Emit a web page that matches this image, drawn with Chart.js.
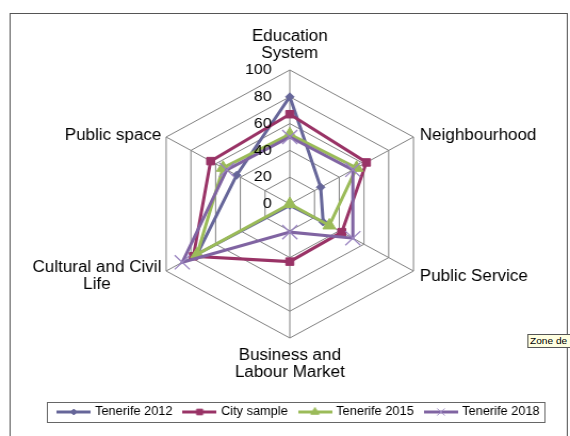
<!DOCTYPE html>
<html>
<head>
<meta charset="utf-8">
<script src="https://cdn.jsdelivr.net/npm/chart.js@4.4.0/dist/chart.umd.min.js"></script>
<style>
  html, body { margin: 0; padding: 0; background: #fff; overflow: hidden; }
  /* the source picture is stretched ~6.5% horizontally, so the whole page is too */
  #page { position: relative; width: 535px; height: 436px; transform: scaleX(1.0654); transform-origin: 0 0; }
  #frame { position: absolute; left: 8.5px; top: 12.5px; width: 524px; height: 440px; border: 1px solid #555; box-sizing: border-box; }
  #chart { position: absolute; left: 0; top: 0; }
  #zone { position: absolute; left: 494.5px; top: 334px; height: 12px; padding: 0 2px; background: #ffffe1; border: 1px solid #555;
          font: 9.5px "Liberation Sans", Arial, sans-serif; line-height: 12px; white-space: nowrap; }
</style>
</head>
<body>
<div id="page">
  <div id="frame"></div>
  <canvas id="chart" width="535" height="436"></canvas>
  <div id="zone">Zone de graphique</div>
</div>
<script>
const categories = [
  ["Education", "System"],
  "Neighbourhood",
  "Public Service",
  ["Business and", "Labour Market"],
  ["Cultural and Civil", "Life"],
  "Public space",
];
const tenerife2012 = [80, 25, 27, 1, 75, 43];
const citySample = [67, 62, 42, 43, 78, 64];
const tenerife2015 = [52, 54, 32, 0, 75, 54];
const tenerife2018 = [50, 51, 51, 21, 87, 51];
const tickValues = [0, 20, 40, 60, 80, 100];

const FONT = '"Liberation Sans", Arial, sans-serif';
Chart.defaults.font.family = FONT;
Chart.defaults.color = "#000";

// where each category label sits relative to its outer vertex
const labelPlacement = [
  { align: "center", dx: 0, dy: -29 },
  { align: "left", dx: 6, dy: 3 },
  { align: "left", dx: 6, dy: 10 },
  { align: "center", dx: 0, dy: 22 },
  { align: "block", dx: -4.5, dy: 1 },
  { align: "right", dx: -4.5, dy: 2.5 },
];

// line + marker swatch, Excel style
function legendSwatch(color, style, radius, markerColor) {
  const c = document.createElement("canvas");
  c.width = 32;
  c.height = 12;
  const ctx = c.getContext("2d");
  ctx.strokeStyle = color;
  ctx.lineWidth = 3;
  ctx.beginPath();
  ctx.moveTo(0, 6);
  ctx.lineTo(32, 6);
  ctx.stroke();
  ctx.fillStyle = markerColor;
  ctx.strokeStyle = markerColor;
  ctx.lineWidth = 1;
  Chart.helpers.drawPoint(ctx, { pointStyle: style, radius: radius, borderWidth: 1, rotation: 0 }, 16, 6);
  return c;
}

const swatches = [
  legendSwatch("#666699", "rectRot", 3, "#666699"),
  legendSwatch("#993366", "rect", 4, "#993366"),
  legendSwatch("#9bbb59", "triangle", 4.5, "#9bbb59"),
  legendSwatch("#8064a2", "crossRot", 5, "#a08cc4"),
];

const radarText = {
  id: "radarText",
  afterDraw(chart) {
    const scale = chart.scales.r;
    const ctx = chart.ctx;
    ctx.save();
    ctx.fillStyle = "#000";

    // value labels to the left of the top spoke
    ctx.font = "15px " + FONT;
    ctx.textAlign = "right";
    ctx.textBaseline = "middle";
    tickValues.forEach((v) => {
      const d = scale.getDistanceFromCenterForValue(v);
      ctx.fillText(String(v), scale.xCenter - 17, scale.yCenter - d);
    });

    // category names
    ctx.font = "16px " + FONT;
    ctx.textBaseline = "alphabetic";
    categories.forEach((label, i) => {
      const lines = [].concat(label);
      const p = scale.getPointPosition(i, scale.drawingArea);
      const place = labelPlacement[i];
      let x = p.x + place.dx;
      if (place.align === "block") {
        const w = Math.max(...lines.map((l) => ctx.measureText(l).width));
        x -= w / 2;
        ctx.textAlign = "center";
      } else {
        ctx.textAlign = place.align;
      }
      lines.forEach((line, k) => {
        ctx.fillText(line, x, p.y + place.dy + k * 17);
      });
    });
    ctx.restore();
  },
};

const legendFrame = {
  id: "legendFrame",
  afterDraw(chart) {
    const lg = chart.legend;
    const boxes = lg.legendHitBoxes;
    if (!boxes || !boxes.length) return;
    const last = boxes[boxes.length - 1];
    const cy = boxes[0].top + boxes[0].height / 2;
    const ctx = chart.ctx;
    ctx.save();
    ctx.strokeStyle = "#666";
    ctx.lineWidth = 1;
    const left = Math.round(lg.left) + 0.5;
    const right = Math.round(last.left + last.width + 4) + 0.5;
    ctx.strokeRect(left, Math.round(cy - 10) + 0.5, right - left, 20);
    ctx.restore();
  },
};

new Chart(document.getElementById("chart").getContext("2d"), {
  type: "radar",
  data: {
    labels: categories,
    datasets: [
      {
        label: "Tenerife 2012",
        data: tenerife2012,
        borderColor: "#666699",
        backgroundColor: "#666699",
        borderWidth: 3,
        pointStyle: "rectRot",
        pointRadius: 4,
        pointBorderWidth: 1,
        order: 4,
      },
      {
        label: "City sample",
        data: citySample,
        borderColor: "#993366",
        backgroundColor: "#993366",
        borderWidth: 3,
        pointStyle: "rect",
        pointRadius: 5.3,
        pointBorderWidth: 1,
        order: 3,
      },
      {
        label: "Tenerife 2015",
        data: tenerife2015,
        borderColor: "#9bbb59",
        backgroundColor: "#9bbb59",
        borderWidth: 3,
        pointStyle: "triangle",
        pointRadius: 7,
        pointBorderWidth: 1,
        order: 2,
      },
      {
        label: "Tenerife 2018",
        data: tenerife2018,
        borderColor: "#8064a2",
        backgroundColor: "#8064a2",
        borderWidth: 3,
        pointStyle: "crossRot",
        pointRadius: 10,
        pointBorderColor: "#9a84c0",
        pointBorderWidth: 1.3,
        order: 1,
      },
    ],
  },
  options: {
    responsive: false,
    animation: false,
    events: [],
    elements: { line: { tension: 0, fill: false } },
    layout: {
      padding: { left: 43.7, right: 6, top: 70, bottom: 8 },
    },
    scales: {
      r: {
        min: 0,
        max: 100,
        ticks: { stepSize: 20, display: false },
        grid: { color: "#808080", lineWidth: 1 },
        angleLines: { color: "#808080", lineWidth: 1 },
        pointLabels: { display: false },
      },
    },
    plugins: {
      tooltip: { enabled: false },
      // empty title on the right only shifts the plot so the legend can sit off-centre
      title: {
        display: true,
        position: "right",
        fullSize: false,
        text: "",
        font: { size: 10 },
        padding: { top: 7.5, bottom: 7.4 },
      },
      legend: {
        position: "bottom",
        align: "start",
        title: { display: true, text: "", font: { size: 10 }, padding: { top: 22, bottom: 22.5 } },
        labels: {
          usePointStyle: true,
          pointStyleWidth: 28,
          padding: 11.5,
          font: { size: 12 },
          generateLabels(chart) {
            return chart.data.datasets.map((ds, i) => ({
              text: ds.label,
              pointStyle: swatches[i],
              fillStyle: ds.borderColor,
              strokeStyle: ds.borderColor,
              fontColor: "#000",
              lineWidth: 0,
              hidden: false,
              datasetIndex: i,
            }));
          },
        },
      },
    },
  },
  plugins: [radarText, legendFrame],
});
</script>
</body>
</html>
